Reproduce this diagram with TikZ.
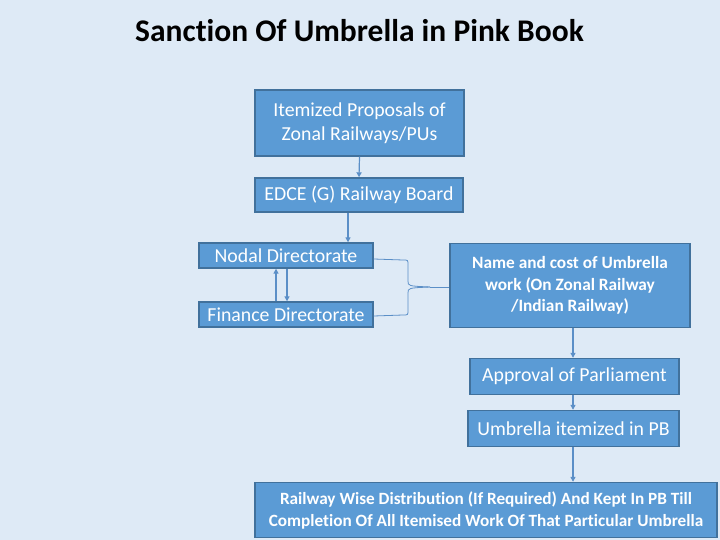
\documentclass[tikz,border=0pt]{standalone}
\usepackage{fontspec}
\setmainfont{Carlito}[Ligatures=NoCommon]
\usetikzlibrary{arrows.meta}
\definecolor{bg}{HTML}{DEEAF6}
\definecolor{boxfill}{HTML}{5B9BD5}
\definecolor{boxline}{HTML}{41719C}
\definecolor{conn}{HTML}{5B8FC7}
\begin{document}
\begin{tikzpicture}[x=1pt,y=-1pt,
  box/.style={draw=boxline,line width=1.4pt,fill=boxfill,text=white,inner sep=0pt,align=center,font=\fontsize{19.8}{24}\selectfont},
  boldbox/.style={box,font=\bfseries\fontsize{17.3}{21.5}\selectfont},
  arr/.style={draw=conn,line width=1.2pt,-{Triangle[length=5pt,width=5pt]}},
  brace/.style={draw=conn,line width=0.8pt}]
\fill[bg] (0,0) rectangle (720,540);
\useasboundingbox (0,0) rectangle (720,540);
\node (title) at (359.5,31) {\bfseries\fontsize{31.5}{36}\selectfont Sanction Of Umbrella in Pink Book};
\node[box,minimum width=209pt,minimum height=66pt] (item) at (359.5,123) {Itemized Proposals of\\Zonal Railways/PUs};
\node[box,minimum width=208pt,minimum height=34pt] (edce) at (359,195) {EDCE (G) Railway Board};
\node[box,minimum width=174pt,minimum height=25pt] (nodal) at (286,255.5) {Nodal Directorate};
\node[box,minimum width=174pt,minimum height=25pt] (fin) at (286,314.5) {Finance Directorate};
\node[boldbox,minimum width=240pt,minimum height=84pt] (name) at (570,285.5) {Name and cost of Umbrella\\work (On Zonal Railway\\/Indian Railway)};
\node[box,minimum width=209pt,minimum height=36pt] (appr) at (574.5,376.5) {Approval of Parliament};
\node[box,minimum width=211pt,minimum height=36pt] (umb) at (573.5,428.5) {Umbrella itemized in PB};
\node[boldbox,minimum width=462pt,minimum height=55pt,font=\bfseries\fontsize{17.2}{22}\selectfont] (rw) at (486,510) {Railway Wise Distribution (If Required) And Kept In PB Till\\Completion Of All Itemised Work Of That Particular Umbrella};
% arrows
\draw[arr] (item.south) -- (edce.north);
\draw[arr] (edce.south -| 348,0) -- (nodal.north -| 348,0);
\draw[arr] (fin.north -| 276,0) -- (nodal.south -| 276,0);
\draw[arr] (nodal.south -| 287,0) -- (fin.north -| 287,0);
\draw[arr] (name.south -| 573,0) -- (appr.north -| 573,0);
\draw[arr] (appr.south -| 573,0) -- (umb.north -| 573,0);
\draw[arr] (umb.south -| 573,0) -- (rw.north -| 573,0);
% brace
\coordinate (tip) at (430,287);
\draw[brace] (nodal.east |- 0,259) -- (403,260) .. controls (408,260) .. (408,265) -- (408,281) .. controls (408,286) .. (tip);
\draw[brace] (fin.east |- 0,316) -- (403,315) .. controls (408,315) .. (408,310) -- (408,293) .. controls (408,288) .. (tip);
\draw[brace] (tip) -- (name.west |- tip);
\end{tikzpicture}
\end{document}
